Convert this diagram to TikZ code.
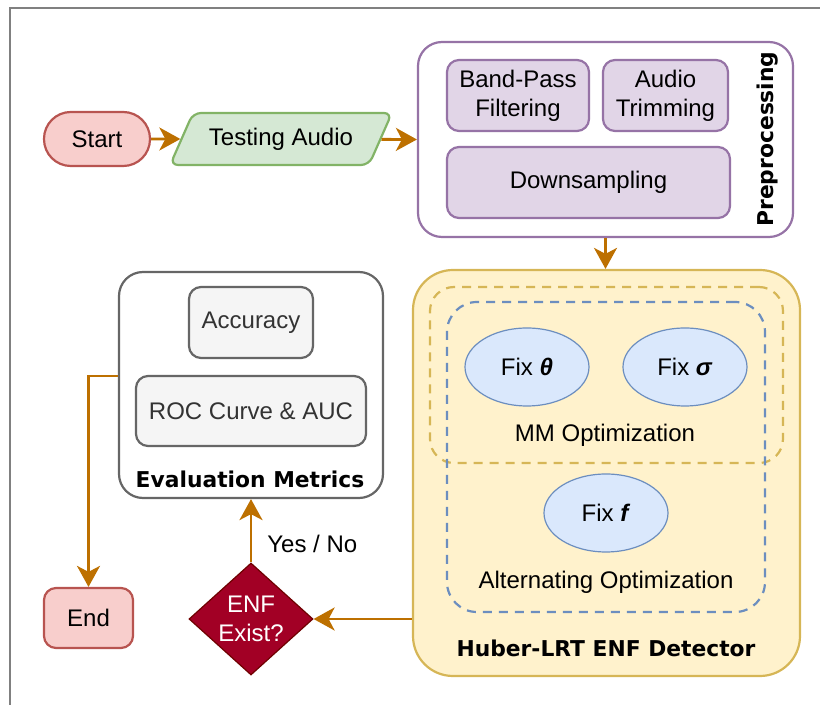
\documentclass[tikz,border=0pt]{standalone}
\usepackage{fontspec}
\setmainfont{Liberation Sans}
\newfontfamily\titlefont{DejaVu Sans}
\usepackage{tikz}
\usetikzlibrary{shapes.geometric,arrows.meta}
\definecolor{arrowcol}{HTML}{BD7000}
\definecolor{prepline}{HTML}{9673A6}
\definecolor{prepfill}{HTML}{E1D5E7}
\definecolor{huberline}{HTML}{D6B656}
\definecolor{huberfill}{HTML}{FFF2CC}
\definecolor{blueline}{HTML}{6C8EBF}
\definecolor{bluefill}{HTML}{DAE8FC}
\definecolor{grayline}{HTML}{666666}
\definecolor{grayfill}{HTML}{F5F5F5}
\definecolor{redline}{HTML}{B85450}
\definecolor{redfill}{HTML}{F8CECC}
\definecolor{greenline}{HTML}{82B366}
\definecolor{greenfill}{HTML}{D5E8D4}
\definecolor{diafill}{HTML}{A20025}
\definecolor{dialine}{HTML}{6F0000}

\begin{document}
\begin{tikzpicture}[x=0.5pt,y=-0.5pt,
  every node/.style={font=\fontsize{12}{14.5}\selectfont, inner sep=0pt, align=center},
  flow/.style={draw=arrowcol, line width=1.4pt, -{Stealth[length=10.5pt,width=11.5pt,inset=3pt]}},
  box/.style={draw, line width=1.1pt, rounded corners=6pt},
  group/.style={draw, line width=1.1pt, rounded corners=12pt},
  dashbox/.style={draw, line width=1.1pt, dash pattern=on 4.5pt off 3.5pt},
  title/.style={font=\titlefont\bfseries\fontsize{10.9}{13}\selectfont},
  oval/.style={ellipse, draw=blueline, fill=bluefill, line width=0.6pt, minimum width=62pt, minimum height=39pt}]
\useasboundingbox (0,0) rectangle (820,705);
\draw[gray, line width=0.8pt] (820,8) -- (10,8) -- (10,705);

\node[box, draw=redline, fill=redfill, rounded corners=13.4pt, minimum width=53pt, minimum height=27pt] (start) at (97,139) {Start};
\node[trapezium, trapezium left angle=50, trapezium right angle=130, trapezium stretches=true, draw=greenline, fill=greenfill, line width=1.1pt, rounded corners=4pt, minimum width=111pt, minimum height=26pt] (testing) at (281,139) {Testing Audio};

\node[group, draw=prepline, fill=white, minimum width=187.5pt, minimum height=97.5pt] (prep) at (605.5,139.5) {};
\node[box, draw=prepline, fill=prepfill, minimum width=71pt, minimum height=35.5pt] (bpf) at (518,95.5) {Band-Pass\\Filtering};
\node[box, draw=prepline, fill=prepfill, minimum width=62.5pt, minimum height=35.5pt] (trim) at (665.5,95.5) {Audio\\Trimming};
\node[box, draw=prepline, fill=prepfill, minimum width=141.5pt, minimum height=35.5pt] (down) at (588.5,182.5) {Downsampling};
\node[title, rotate=90] (preptitle) at (768,139) {Preprocessing};

\node[draw=huberline, fill=huberfill, line width=1.1pt, rounded corners=20pt, minimum width=193.5pt, minimum height=203pt] (huber) at (606.5,473) {};
\node[dashbox, draw=huberline, rounded corners=12pt, minimum width=176.5pt, minimum height=88pt] (mm) at (606.5,375) {};
\node[dashbox, draw=blueline, rounded corners=15pt, minimum width=159pt, minimum height=155pt] (alt) at (606,457) {};
\node[oval] (fixtheta) at (527,367) {Fix \textbf{\textit{θ}}};
\node[oval] (fixsigma) at (685,367) {Fix \textbf{\textit{σ}}};
\node (mmtitle) at (605,435) {MM Optimization};
\node[oval] (fixf) at (606,513) {Fix \textbf{\textit{f}}};
\node (alttitle) at (606,582) {Alternating Optimization};
\node[title] (hubertitle) at (606,648) {Huber-LRT ENF Detector};

\node[group, draw=grayline, fill=white, minimum width=132pt, minimum height=113pt] (eval) at (251,385) {};
\node[box, draw=grayline, fill=grayfill, text=black!80, minimum width=62pt, minimum height=35.5pt] (acc) at (251,322.5) {Accuracy};
\node[box, draw=grayline, fill=grayfill, text=black!80, minimum width=115pt, minimum height=35pt] (roc) at (251,411) {ROC Curve \& AUC};
\node[title] (evaltitle) at (250,479) {Evaluation Metrics};

\node[box, draw=redline, fill=redfill, minimum width=44.5pt, minimum height=30pt] (end) at (88.5,618) {End};
\node[diamond, draw=dialine, fill=diafill, text=white, line width=0.6pt, aspect=1.1, minimum width=62pt, minimum height=56pt] (enf) at (251,619) {ENF\\Exist?};
\node[anchor=west] (yesno) at (267,544) {Yes / No};

\draw[flow] (start) -- (testing);
\draw[flow] (testing) -- (prep.west);
\draw[flow] (prep.south) -- (prep.south |- huber.north);
\draw[flow] (enf -| huber.west) -- (enf.east);
\draw[flow] (enf.north) -- (eval.south);
\draw[flow] ([yshift=4.5pt]eval.west) -| (end.north);
\end{tikzpicture}
\end{document}
